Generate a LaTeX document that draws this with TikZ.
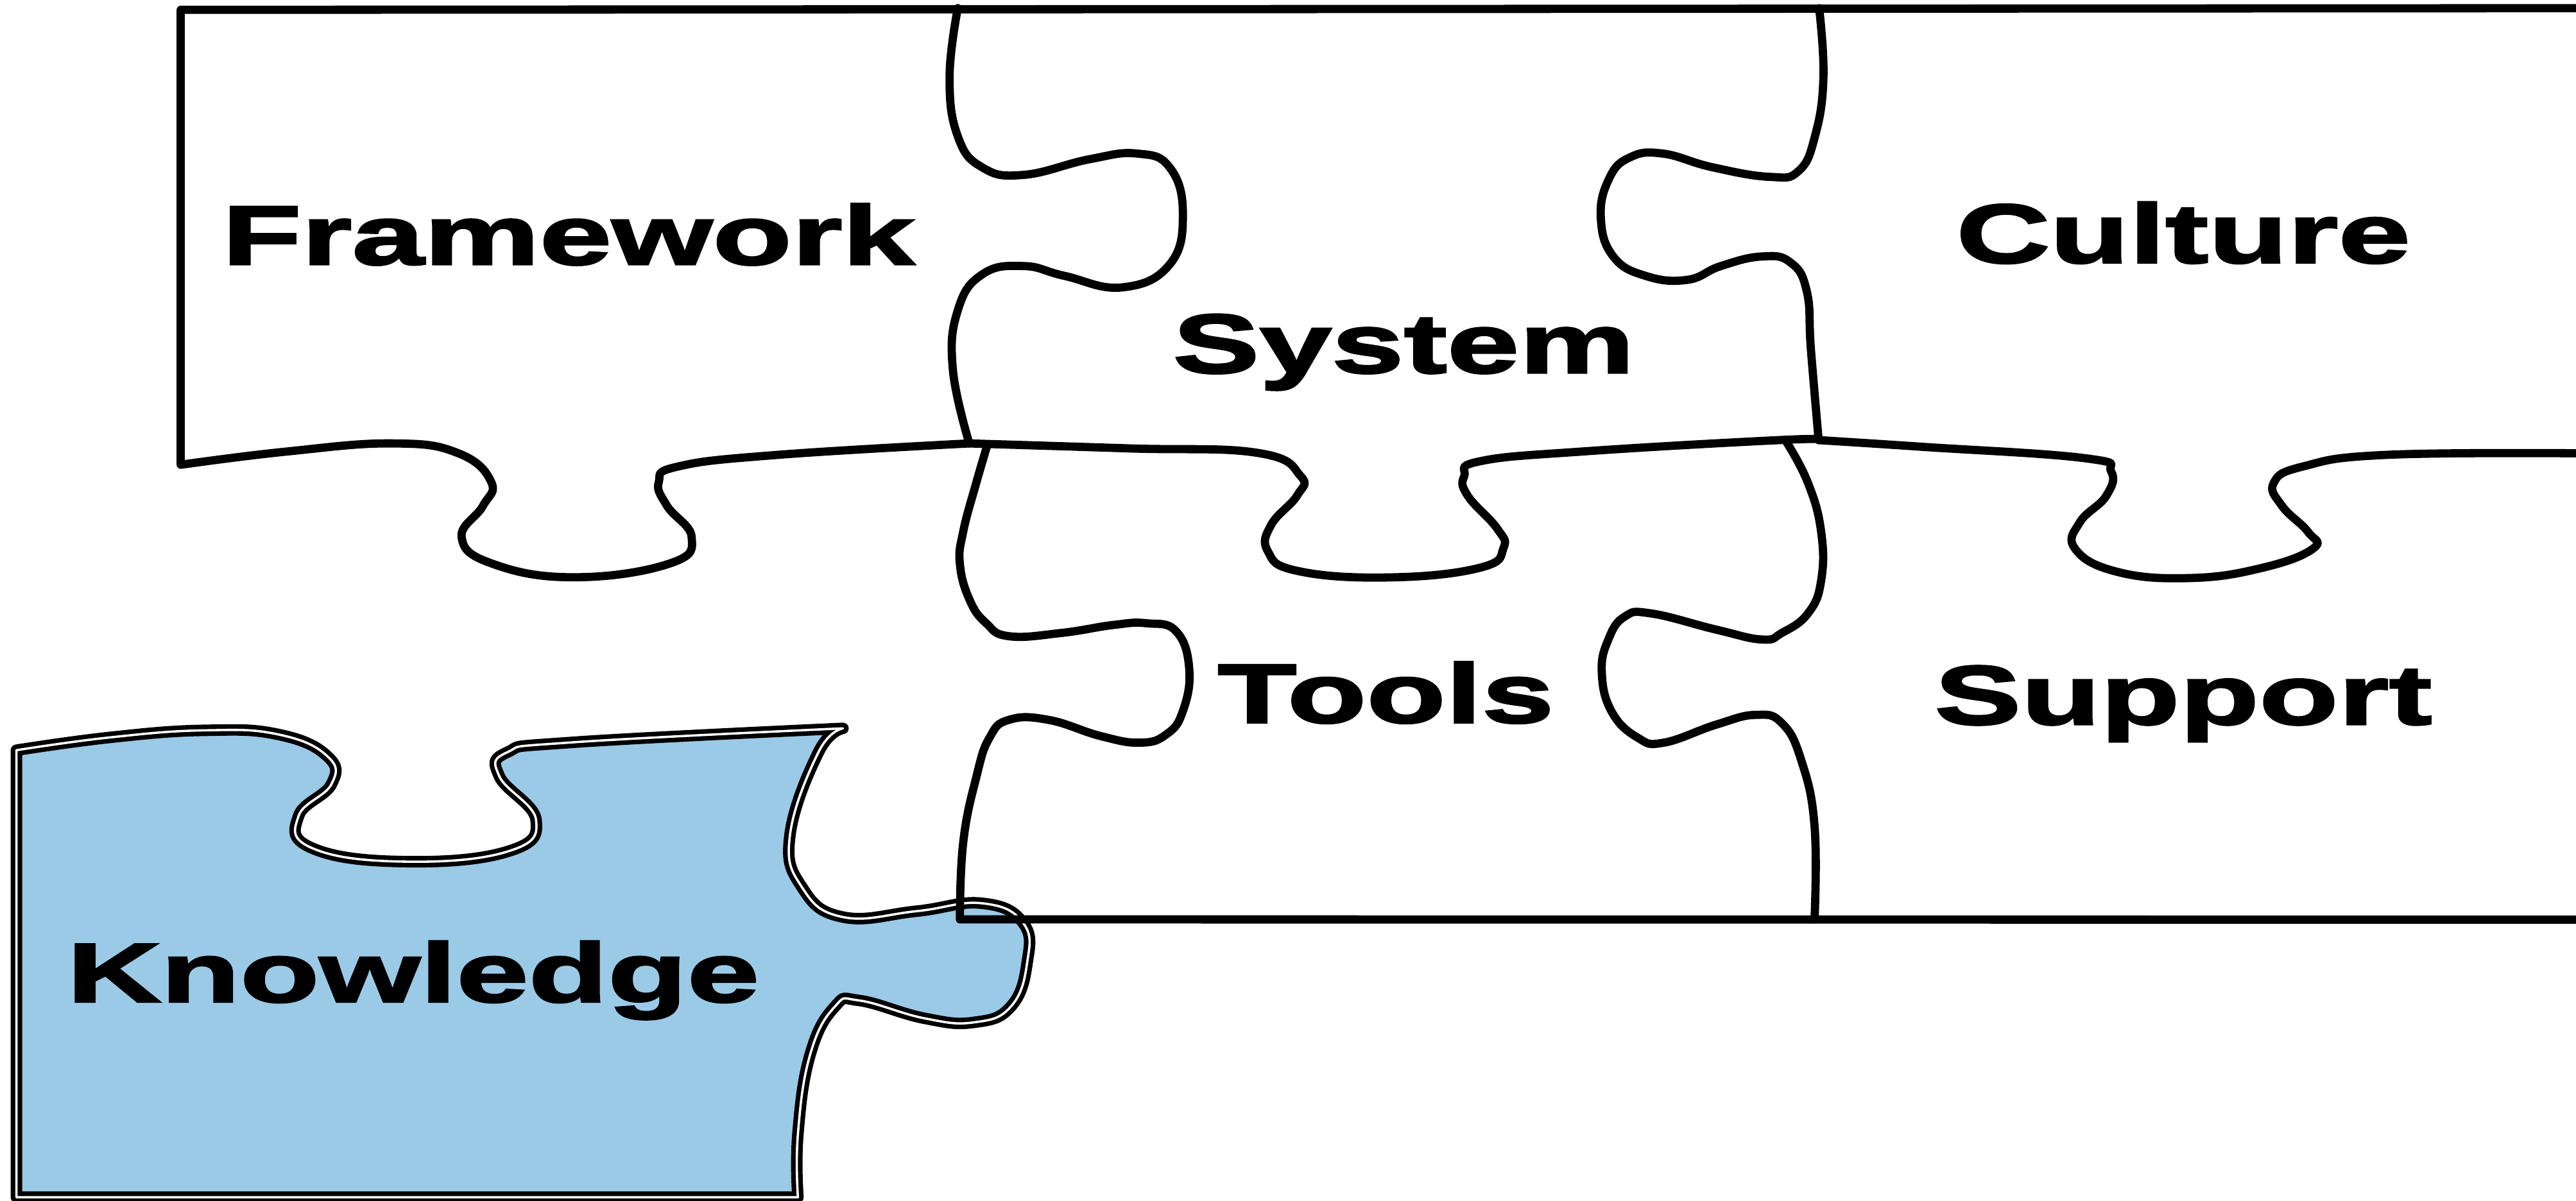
\documentclass[tikz,border=0pt]{standalone}
\usepackage{fontspec}
\newfontfamily\piecefont{Liberation Sans}[FakeStretch=1.55, BoldFeatures={FakeBold=2.5}]
\usepackage{tikz}
\definecolor{knowblue}{RGB}{155,202,231}

\begin{document}
\begin{tikzpicture}[x=0.1mm, y=-0.1mm,
    cut/.style={line width=0.5mm, line join=round, line cap=round},
    loose/.style={fill=knowblue, draw, double=white, line width=0.28mm, double distance=0.14mm, line join=round},
    word/.style={font=\piecefont\bfseries\fontsize{14.5pt}{16pt}\selectfont, anchor=base, inner sep=0pt}]
    \useasboundingbox (0,0) rectangle (1568,731);

    %Loose piece
    \filldraw[loose] (10,729) -- (10,456.8)
      -- plot[smooth, tension=0.75] coordinates {(10,456.8) (67,449) (124.6,444.7) (169.4,447.2) (199.3,460.5) (201.8,477.4) (181.8,496.7) (189.3,516.1) (244.1,524.6) (308.9,518.5) (326.3,499.2) (303.9,472.6) (308.9,458) (348.7,452) (513.1,443.5)}
      -- plot[smooth, tension=0.75] coordinates {(513.1,443.5) (498.2,458) (480.8,508.8) (488.2,540.3) (513.1,558.4) (558,554.8) (597.8,550) (622.8,562) (625.2,586.3) (615.3,612.9) (592.9,622.5) (563,620.1) (523.1,609.2) (508.2,612.9) (493.2,641.9) (485.7,690.3) (485.7,729)}
      -- cycle;

    %Top row
    \begin{scope}[cut]
      \draw (1568,5) -- (110,6) -- (110,283)
        -- plot[smooth, tension=0.75] coordinates {(110,283) (174,275) (239,270) (279,276) (299,293.5) (294,308) (281,327) (299,343) (349,351.5) (408,343) (421,327) (406,308) (401,293.5) (413,284) (473,277) (590,270)}
        -- plot[smooth, tension=0.75] coordinates {(590,270) (686,273) (765.7,275.8) (791.6,289.8) (789.6,301.7) (773.7,319.7) (771.7,335.6) (789.6,347.6) (845.4,351.6) (901.2,345.6) (915.2,333.6) (911.2,321.7) (893.3,301.7) (891.3,289.8) (901.2,280.8) (965,274.8) (1084.6,267.9) (1107,268)}
        -- plot[smooth, tension=0.75] coordinates {(1107,268) (1169,272) (1269,279) (1285,287) (1282,302) (1266,318) (1263,334) (1288,348) (1332,352) (1376,346) (1408,334) (1405,324) (1389,308) (1384,294) (1402,284) (1452,277) (1568,276)};
      \draw plot[smooth, tension=0.75] coordinates {(583,5) (578,47) (583,83) (598,102) (623,106.5) (663,97) (692,93.5) (712,102) (720,130) (712,161) (683,175) (648,168) (623,162) (598,167) (583,189) (580,225) (590,270)};
      \draw plot[smooth, tension=0.75] coordinates {(1107.3,5) (1109.9,47.3) (1104.8,82.8) (1094.8,104.1) (1077.2,107.7) (1042.1,101.8) (1012,93.5) (992,95.9) (979.4,108.9) (974.4,132.6) (982,156.2) (1002,168.1) (1027.1,170.4) (1047.2,162.1) (1072.2,156.2) (1089.8,159.8) (1099.8,177.5) (1102.3,213) (1107,268)};
    \end{scope}

    %Middle row
    \begin{scope}[cut]
      \draw plot[smooth, tension=0.75] coordinates {(601,271) (594.3,293.8) (586.3,323.7) (584.3,343.6) (590.3,365.5) (600.3,379.5) (614.2,387.4) (646.1,385.4) (678,380.5) (697.9,379.5) (715.9,384.4) (723.9,407.4) (719.9,433.3) (709.9,447.2) (694,452.2) (670,448.2) (638.1,438.3) (614.2,438.3) (602.3,449.2) (594.3,473.1) (586.3,513) (584.3,559.8)}
        -- (1568,560);
      \draw plot[smooth, tension=0.75] coordinates {(1087,268.5) (1100.4,293.8) (1108.5,323.7) (1108.5,353.6) (1100.5,373.5) (1084.6,385.4) (1072.6,389.4) (1044.7,383.4) (1004.9,373.5) (988.9,375.5) (979,389.4) (975,409.4) (981,433.3) (996.9,449.2) (1012.8,452.2) (1044.7,441.2) (1068.6,435.3) (1084.6,440.3) (1096.5,463.2) (1104.5,503) (1104.5,559.8)};
    \end{scope}

    %Labels
    \node[word] (framework) at (346,161) {Framework};
    \node[word] (system) at (854.5,227) {System};
    \node[word] (culture) at (1329,160) {Culture};
    \node[word] (tools) at (843.5,440) {Tools};
    \node[word] (support) at (1329,441) {Support};
    \node[word] (knowledge) at (251.5,610) {Knowledge};
\end{tikzpicture}
\end{document}
